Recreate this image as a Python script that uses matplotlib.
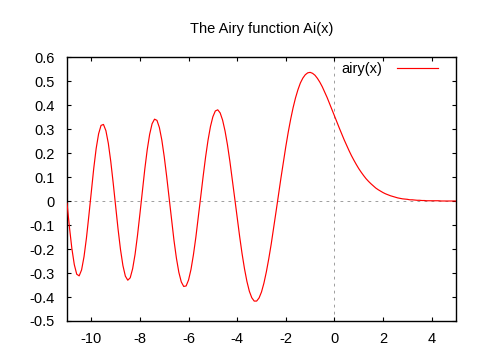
import numpy as np
import matplotlib
matplotlib.use("Agg")
import matplotlib.pyplot as plt

# ---- data ----
title = "The Airy function Ai(x)"
series_label = "airy(x)"
x_start, x_stop, x_step = -11.0, 5.0, 0.1
ai_values = [
    -0.009, -0.109, -0.198, -0.265, -0.305, -0.312, -0.287, -0.232, -0.154, -0.060,
    0.040, 0.136, 0.219, 0.280, 0.315, 0.319, 0.293, 0.240, 0.165, 0.075,
    -0.022, -0.117, -0.202, -0.269, -0.313, -0.330, -0.320, -0.282, -0.222, -0.143,
    -0.053, 0.042, 0.133, 0.214, 0.278, 0.322, 0.341, 0.336, 0.306, 0.254,
    0.184, 0.102, 0.012, -0.078, -0.164, -0.238, -0.297, -0.337, -0.356, -0.354,
    -0.329, -0.285, -0.224, -0.151, -0.068, 0.018, 0.103, 0.183, 0.253, 0.310,
    0.351, 0.375, 0.380, 0.367, 0.337, 0.292, 0.234, 0.165, 0.089, 0.010,
    -0.070, -0.147, -0.219, -0.282, -0.335, -0.376, -0.403, -0.417, -0.417, -0.404,
    -0.379, -0.342, -0.295, -0.240, -0.179, -0.112, -0.043, 0.027, 0.096, 0.163,
    0.227, 0.287, 0.341, 0.389, 0.430, 0.464, 0.492, 0.512, 0.526, 0.534,
    0.536, 0.532, 0.524, 0.511, 0.495, 0.476, 0.454, 0.431, 0.406, 0.381,
    0.355, 0.329, 0.304, 0.279, 0.255, 0.232, 0.210, 0.189, 0.170, 0.152,
    0.135, 0.120, 0.106, 0.093, 0.082, 0.072, 0.063, 0.054, 0.047, 0.041,
    0.035, 0.030, 0.026, 0.022, 0.019, 0.016, 0.013, 0.011, 0.009, 0.008,
    0.007, 0.005, 0.005, 0.004, 0.003, 0.003, 0.002, 0.002, 0.001, 0.001,
    0.001, 0.001, 0.001, 0.001, 0.000, 0.000, 0.000, 0.000, 0.000, 0.000,
    0.000,
]
x_ticks = [-10, -8, -6, -4, -2, 0, 2, 4]
x_tick_labels = ["-10", "-8", "-6", "-4", "-2", "0", "2", "4"]
y_ticks = [-0.5, -0.4, -0.3, -0.2, -0.1, 0, 0.1, 0.2, 0.3, 0.4, 0.5, 0.6]
y_tick_labels = ["-0.5", "-0.4", "-0.3", "-0.2", "-0.1", "0",
                 "0.1", "0.2", "0.3", "0.4", "0.5", "0.6"]

x_values = np.linspace(x_start, x_stop, len(ai_values))

plt.rcParams['font.family'] = ['Liberation Sans', 'DejaVu Sans']
plt.rcParams['font.size'] = 10.5

W, H = 480, 360
fig = plt.figure(figsize=(W/100, H/100), dpi=100)
L, R, T, B = 67, 456, 57, 321
ax = fig.add_axes([L/W, 1 - B/H, (R-L)/W, (B-T)/H])

zero_style = dict(color='#a0a0a0', lw=0.72, ls=(0, (2.8, 4.2)), zorder=1)
ax.axhline(0, **zero_style)
ax.axvline(0, **zero_style)
ax.plot(x_values, ai_values, color='#ff0000', lw=0.85, label=series_label, zorder=3)

ax.set_xlim(x_start, x_stop)
ax.set_ylim(-0.5, 0.6)
ax.set_xticks(x_ticks)
ax.set_xticklabels(x_tick_labels)
ax.set_yticks(y_ticks)
ax.set_yticklabels(y_tick_labels)
ax.tick_params(direction='in', length=3.2, width=0.8, top=True, right=True,
               colors='black')
ax.tick_params(axis='x', pad=8)
ax.tick_params(axis='y', pad=9)
for s in ax.spines.values():
    s.set_linewidth(1.0)
    s.set_color('black')

fig.text((L+R)/2/W, 1 - 33/H, title, ha='center', va='baseline')

leg = ax.legend(loc='center right', bbox_to_anchor=(438/W, 1 - 69/H),
                bbox_transform=fig.transFigure, frameon=False,
                markerfirst=False, handlelength=2.8, handletextpad=1.0,
                borderpad=0, borderaxespad=0)

fig.savefig("out.png", dpi=100)
